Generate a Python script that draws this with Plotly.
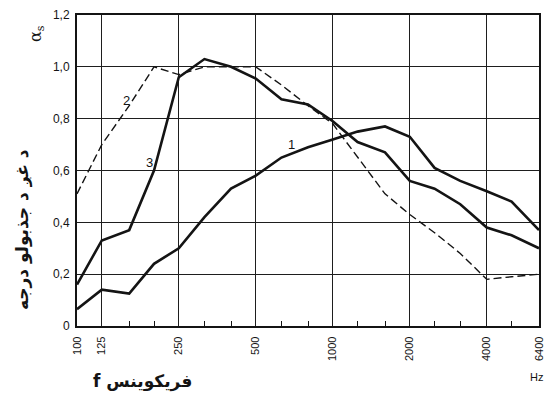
import math
import plotly.graph_objects as go

# Third-octave band centre frequencies, Hz
freq = [100, 125, 160, 200, 250, 315, 400, 500, 630, 800, 1000,
        1250, 1600, 2000, 2500, 3150, 4000, 5000, 6400]

# Sound absorption coefficient for the three samples
curve_1 = [0.065, 0.14, 0.125, 0.24, 0.30, 0.42, 0.53, 0.58, 0.65, 0.69, 0.72,
           0.75, 0.77, 0.73, 0.61, 0.56, 0.52, 0.48, 0.37]
curve_2 = [0.51, 0.70, 0.85, 1.00, 0.97, 1.00, 1.00, 1.00, 0.93, 0.85, 0.78,
           0.65, 0.51, 0.43, 0.36, 0.28, 0.18, 0.19, 0.20]
curve_3 = [0.16, 0.33, 0.37, 0.60, 0.96, 1.03, 1.00, 0.955, 0.875, 0.855, 0.79,
           0.71, 0.67, 0.56, 0.53, 0.47, 0.38, 0.35, 0.30]

# Axis ticks
x_major = [100, 125, 250, 500, 1000, 2000, 4000, 6400]
x_major_text = ["100", "125", "250", "500", "1000", "2000", "4000", "6400"]
x_minor = [160, 200, 315, 400, 630, 800, 1250, 1600, 2500, 3150, 5000]
y_ticks = [0, 0.2, 0.4, 0.6, 0.8, 1.0, 1.2]
y_ticks_text = ["0", "0,2", "0,4", "0,6", "0,8", "1,0", "1,2"]

INK = "#141414"

fig = go.Figure()
fig.add_trace(go.Scatter(x=freq, y=curve_2, mode="lines",
                         line=dict(color=INK, width=1.4, dash="8px,4px")))
fig.add_trace(go.Scatter(x=freq, y=curve_1, mode="lines",
                         line=dict(color=INK, width=2.6)))
fig.add_trace(go.Scatter(x=freq, y=curve_3, mode="lines",
                         line=dict(color=INK, width=2.6)))

# Curve numbers
for txt, f, a in [("1", 690, 0.70), ("2", 156, 0.87), ("3", 192, 0.63)]:
    fig.add_annotation(x=math.log10(f), y=a, text=txt, showarrow=False,
                       xanchor="center", yanchor="middle",
                       font=dict(family="Liberation Sans", size=13, color=INK))


def paper_note(text, x, y, size, family, angle=0):
    fig.add_annotation(xref="paper", yref="paper", x=x, y=y, text=text,
                       textangle=angle, showarrow=False,
                       xanchor="center", yanchor="middle",
                       font=dict(family=family, size=size, color=INK))


# Axis symbol and titles
paper_note("α<sub>s</sub>", -0.088, 0.94, 16, "DejaVu Serif", -90)
paper_note("<b>د غږ د جذبولو درجه</b>", -0.118, 0.31, 17, "DejaVu Sans", -90)
paper_note("<b>f فریکوینس</b>", 0.142, -0.18, 17, "DejaVu Sans")
paper_note("Hz", 0.995, -0.165, 11, "Liberation Sans")

fig.update_layout(
    width=551, height=396,
    margin=dict(l=77, r=6, t=15, b=70),
    paper_bgcolor="white", plot_bgcolor="white",
    showlegend=False,
    xaxis=dict(
        type="log", range=[2, math.log10(6400)],
        tickmode="array", tickvals=x_major, ticktext=x_major_text,
        tickangle=-90, ticks="", ticklabelstandoff=4,
        tickfont=dict(family="Liberation Sans Narrow, Liberation Sans", size=11, color=INK),
        showgrid=True, gridcolor="#1e1e1e", gridwidth=1.4,
        showline=True, linecolor=INK, linewidth=2.4, mirror=True,
        zeroline=False,
        minor=dict(tickmode="array", tickvals=x_minor, ticks="inside",
                   ticklen=5, tickwidth=1.2, tickcolor=INK, showgrid=False),
    ),
    yaxis=dict(
        range=[0, 1.2], tickmode="array", tickvals=y_ticks, ticktext=y_ticks_text,
        ticks="", ticklabelstandoff=3,
        tickfont=dict(family="Liberation Sans", size=12, color=INK),
        showgrid=True, gridcolor="#1e1e1e", gridwidth=1.4,
        showline=True, linecolor=INK, linewidth=2, mirror=True,
        zeroline=False,
    ),
)

fig.write_html("out.html")
